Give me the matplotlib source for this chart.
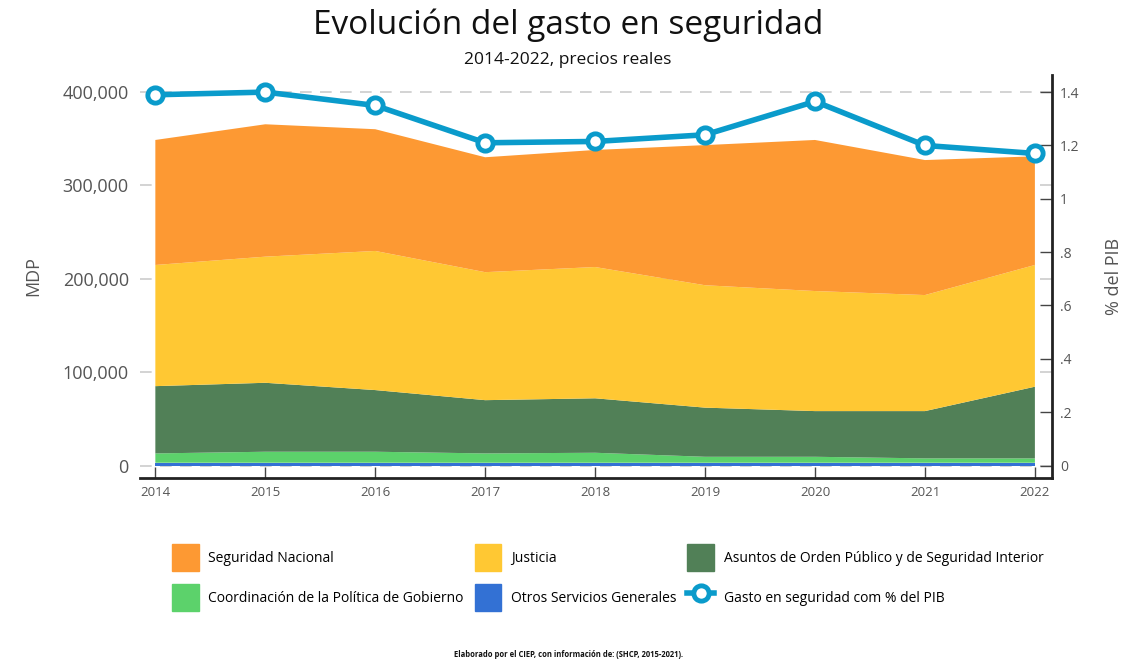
import matplotlib.pyplot as plt
from matplotlib.ticker import FuncFormatter
from matplotlib.patches import Patch
from matplotlib.lines import Line2D

plt.rcParams['font.family'] = ['Open Sans', 'DejaVu Sans']

# datos (millones de pesos, precios reales)
anios = [2014, 2015, 2016, 2017, 2018, 2019, 2020, 2021, 2022]
otros_servicios = [3000, 3000, 3000, 3000, 3000, 3000, 3000, 3000, 3000]
coordinacion = [10000, 11800, 11800, 10000, 10700, 6400, 6400, 4700, 4700]
orden_publico = [72000, 73800, 66000, 57000, 58300, 52600, 48900, 50600, 76700]
justicia = [129700, 135000, 148900, 137000, 140500, 131000, 128500, 124200, 130300]
seguridad_nacional = [133800, 141700, 130300, 123000, 125300, 150000, 161700, 144500, 116300]
pct_pib = [1.39, 1.40, 1.35, 1.21, 1.215, 1.24, 1.365, 1.20, 1.17]

nombres = ['Otros Servicios Generales', 'Coordinación de la Política de Gobierno',
           'Asuntos de Orden Público y de Seguridad Interior', 'Justicia',
           'Seguridad Nacional']
colores = ['#3371D4', '#5CD26B', '#518057', '#FFC833', '#FD9933']
color_linea = '#0A9BCB'
gris = '#555555'

fig = plt.figure(figsize=(11.36, 6.64), dpi=100)
ax = fig.add_axes([0.1232, 0.280, 0.8028, 0.607])

ax.stackplot(anios, otros_servicios, coordinacion, orden_publico, justicia,
             seguridad_nacional, colors=colores, zorder=2)

ax.set_xlim(2013.86, 2022.155)
ax.set_ylim(-13400, 418000)
ax.set_yticks([0, 100000, 200000, 300000, 400000])
ax.yaxis.set_major_formatter(FuncFormatter(lambda v, p: f'{int(v):,}'))
ax.yaxis.grid(True, color='#cccccc', linestyle=(0, (7, 5)), linewidth=1.2, zorder=0)
ax.set_axisbelow(True)
ax.tick_params(axis='y', length=0, labelsize=13, labelcolor=gris, pad=8)
ax.set_xticks(anios)
ax.set_xticklabels([str(a) for a in anios])
ax.tick_params(axis='x', direction='in', length=8, width=1, color='#444444',
               labelsize=9.5, labelcolor=gris, pad=6)
ax.set_ylabel('MDP', fontsize=13, color=gris, labelpad=15)
for lado in ['left', 'top', 'right']:
    ax.spines[lado].set_visible(False)
ax.spines['bottom'].set_linewidth(2)
ax.spines['bottom'].set_color('#222222')

ax2 = ax.twinx()
ax2.plot(anios, pct_pib, color=color_linea, linewidth=4, marker='o', markersize=11,
         markerfacecolor='white', markeredgecolor=color_linea, markeredgewidth=3.5,
         zorder=5, clip_on=False)
ax2.set_ylim(-0.047, 1.464)
ax2.set_yticks([0, 0.2, 0.4, 0.6, 0.8, 1.0, 1.2, 1.4])
ax2.set_yticklabels(['0', '.2', '.4', '.6', '.8', '1', '1.2', '1.4'])
ax2.tick_params(axis='y', direction='in', length=9, width=1, color='#444444',
                labelsize=10, labelcolor=gris, pad=6)
ax2.set_ylabel('% del PIB', fontsize=13, color=gris, labelpad=18)
for lado in ['left', 'top', 'bottom']:
    ax2.spines[lado].set_visible(False)
ax2.spines['right'].set_linewidth(2)
ax2.spines['right'].set_color('#222222')

fig.text(0.5, 0.962, 'Evolución del gasto en seguridad', ha='center', va='center',
         fontsize=24, color='#111111')
fig.text(0.5, 0.910, '2014-2022, precios reales', ha='center', va='center',
         fontsize=12.5, color='#111111')
fig.text(0.5, 0.008, 'Elaborado por el CIEP, con información de: (SHCP, 2015-2021).',
         ha='center', va='bottom', fontsize=5.5, fontweight='bold', color='#111111')

# leyenda: orden por filas como en el original
h = [Patch(color=c) for c in colores]
linea = Line2D([], [], color=color_linea, linewidth=4, marker='o', markersize=11,
               markerfacecolor='white', markeredgecolor=color_linea, markeredgewidth=3.5)
handles = [h[4], h[1], h[3], h[0], h[2], linea]
labels = [nombres[4], nombres[1], nombres[3], nombres[0], nombres[2],
          'Gasto en seguridad com % del PIB']
fig.legend(handles, labels, ncol=3, loc='center', bbox_to_anchor=(0.535, 0.130),
           frameon=False, fontsize=10, handlelength=1.9, handleheight=2.6,
           columnspacing=0.8, handletextpad=0.7, labelspacing=0.95)

fig.savefig('out.png', dpi=100)
